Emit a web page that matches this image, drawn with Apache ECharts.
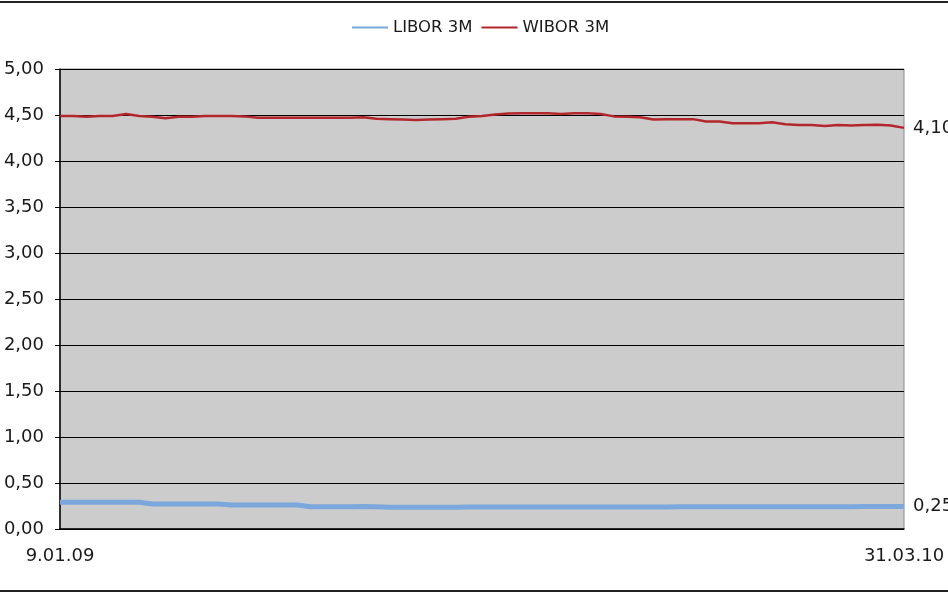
<!DOCTYPE html>
<html>
<head>
<meta charset="utf-8">
<script src="https://cdn.jsdelivr.net/npm/echarts@6/dist/echarts.min.js"></script>
<style>
  html, body { margin: 0; padding: 0; background: #fff; }
  #chart { width: 948px; height: 593px; }
</style>
</head>
<body>
<div id="chart"></div>
<script>
// tygodniowe notowania 9.01.09 - 31.03.10
var dates = [
    '9.01.09', '16.01.09', '23.01.09', '30.01.09', '6.02.09', '13.02.09', '20.02.09', '27.02.09',
    '6.03.09', '13.03.09', '20.03.09', '27.03.09', '3.04.09', '10.04.09', '17.04.09', '24.04.09',
    '1.05.09', '8.05.09', '15.05.09', '22.05.09', '29.05.09', '5.06.09', '12.06.09', '19.06.09',
    '26.06.09', '3.07.09', '10.07.09', '17.07.09', '24.07.09', '31.07.09', '7.08.09', '14.08.09',
    '21.08.09', '28.08.09', '4.09.09', '11.09.09', '18.09.09', '25.09.09', '2.10.09', '9.10.09',
    '16.10.09', '23.10.09', '30.10.09', '6.11.09', '13.11.09', '20.11.09', '27.11.09', '4.12.09',
    '11.12.09', '18.12.09', '25.12.09', '1.01.10', '8.01.10', '15.01.10', '22.01.10', '29.01.10',
    '5.02.10', '12.02.10', '19.02.10', '26.02.10', '5.03.10', '12.03.10', '19.03.10', '26.03.10',
    '31.03.10'
];

var libor3m = [
    0.29, 0.29, 0.29, 0.29, 0.29, 0.29, 0.29, 0.272,
    0.272, 0.272, 0.272, 0.272, 0.272, 0.26, 0.26, 0.26,
    0.26, 0.26, 0.26, 0.243, 0.243, 0.243, 0.243, 0.245,
    0.243, 0.236, 0.236, 0.236, 0.236, 0.237, 0.237, 0.238,
    0.238, 0.238, 0.238, 0.238, 0.239, 0.239, 0.239, 0.239,
    0.24, 0.24, 0.24, 0.24, 0.24, 0.24, 0.24, 0.241,
    0.241, 0.241, 0.241, 0.242, 0.242, 0.242, 0.242, 0.242,
    0.243, 0.243, 0.243, 0.243, 0.243, 0.244, 0.244, 0.244,
    0.244
];

var wibor3m = [
    4.49, 4.49, 4.48, 4.49, 4.49, 4.51, 4.49, 4.48,
    4.465, 4.48, 4.48, 4.49, 4.49, 4.49, 4.485, 4.47,
    4.47, 4.47, 4.47, 4.47, 4.47, 4.47, 4.47, 4.475,
    4.46, 4.455, 4.45, 4.445, 4.45, 4.455, 4.46, 4.48,
    4.49, 4.505, 4.515, 4.52, 4.52, 4.52, 4.51, 4.52,
    4.52, 4.51, 4.485, 4.48, 4.475, 4.45, 4.455, 4.455,
    4.455, 4.43, 4.43, 4.41, 4.41, 4.41, 4.42, 4.40,
    4.39, 4.39, 4.38, 4.39, 4.385, 4.39, 4.395, 4.385,
    4.36
];

var yTicks = { min: 0, max: 5, interval: 0.5 };
var endTexts = ['0,25', '4,10'];

var chart = echarts.init(document.getElementById('chart'));
var FONT = 'DejaVu Sans';
var last = dates.length - 1;

chart.setOption({
    animation: false,
    backgroundColor: '#ffffff',
    textStyle: { fontFamily: FONT },
    graphic: [
        // ramka obrazka (góra i dół)
        { type: 'line', shape: { x1: 0, y1: 2, x2: 948, y2: 2 }, style: { stroke: '#222', lineWidth: 2 } },
        { type: 'line', shape: { x1: 0, y1: 591, x2: 948, y2: 591 }, style: { stroke: '#222', lineWidth: 2 } }
    ],
    legend: {
        top: 19,
        left: 352,
        padding: 0,
        icon: 'rect',
        itemWidth: 36,
        itemHeight: 2,
        itemGap: 9,
        textStyle: { fontFamily: FONT, fontSize: 16.5, color: '#1a1a1a' },
        data: ['LIBOR 3M', 'WIBOR 3M']
    },
    grid: {
        left: 60, right: 44, top: 69, bottom: 64,
        show: true,
        backgroundColor: '#cccccc',
        borderColor: '#8a8a8a',
        borderWidth: 1
    },
    xAxis: {
        type: 'category',
        boundaryGap: false,
        data: dates,
        axisLine: { lineStyle: { color: '#000', width: 1.5 } },
        axisTick: { show: false },
        axisLabel: {
            interval: function (index) { return index === 0 || index === last; },
            margin: 18,
            fontFamily: FONT,
            fontSize: 18,
            color: '#1a1a1a'
        },
        splitLine: { show: false }
    },
    yAxis: {
        type: 'value',
        min: yTicks.min,
        max: yTicks.max,
        interval: yTicks.interval,
        axisLine: { show: true, lineStyle: { color: '#000', width: 1.5 } },
        axisTick: { show: true, length: 5, lineStyle: { color: '#000' } },
        axisLabel: {
            margin: 16,
            fontFamily: FONT,
            fontSize: 18,
            color: '#1a1a1a',
            formatter: function (v) { return v.toFixed(2).replace('.', ','); }
        },
        splitLine: { lineStyle: { color: '#000', width: 1.2 } }
    },
    series: [
        {
            name: 'LIBOR 3M',
            type: 'line',
            data: libor3m,
            showSymbol: false,
            symbol: 'none',
            color: '#7ba7dd',
            lineStyle: { width: 5, color: '#7ba7dd' },
            endLabel: {
                show: true,
                distance: 9,
                formatter: function () { return endTexts[0]; },
                fontFamily: FONT,
                fontSize: 18,
                color: '#1a1a1a'
            }
        },
        {
            name: 'WIBOR 3M',
            type: 'line',
            data: wibor3m,
            showSymbol: false,
            symbol: 'none',
            color: '#b3262b',
            lineStyle: { width: 2.5, color: '#b3262b' },
            endLabel: {
                show: true,
                distance: 9,
                formatter: function () { return endTexts[1]; },
                fontFamily: FONT,
                fontSize: 18,
                color: '#1a1a1a'
            }
        }
    ]
});
</script>
</body>
</html>
